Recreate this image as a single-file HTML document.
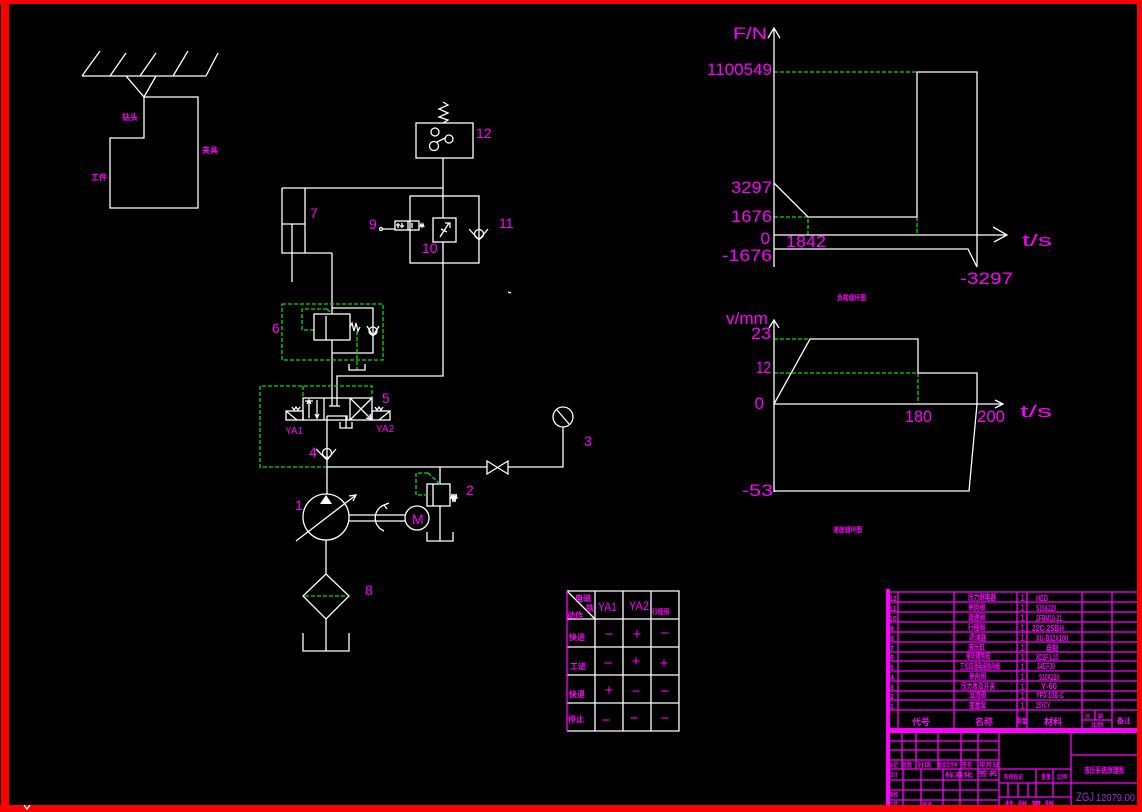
<!DOCTYPE html>
<html><head><meta charset="utf-8"><style>
html,body{margin:0;padding:0;background:#000;}
svg{display:block}
.w{stroke:#fff;stroke-width:1.3;fill:none}
.g{stroke:#00e000;stroke-width:1.3;fill:none;stroke-dasharray:4 2}
.p{stroke:#ff00ff;stroke-width:1.3;fill:none}
.m{fill:#ff00ff;font-family:"Liberation Sans",sans-serif}
.c{fill:#ff00ff;font-family:"Liberation Sans","Noto Sans CJK SC",sans-serif;font-weight:bold}
</style></head><body>
<svg width="1142" height="812" viewBox="0 0 1142 812" xmlns="http://www.w3.org/2000/svg">
<rect width="1142" height="812" fill="#000"/>

<!-- Mechanism -->
<path class="w" d="M82,76H206 M82,76L100,51 M110,76L126,53 M140,76L156,53 M173,76L188,51 M206,76L218,53 M126,76L144,97L156,76"/>
<path class="w" d="M144,97H198V208H110V138H144Z"/>
<text class="c" x="122" y="120" font-size="8">钻头</text>
<text class="c" x="202" y="153" font-size="8">夹具</text>
<text class="c" x="91" y="180" font-size="8">工件</text>

<!-- Hydraulic top -->
<path class="w" d="M443,102l5,3l-9,4l9,4l-9,4l9,3l-5,3"/>
<rect class="w" x="416" y="123" width="57" height="35"/>
<circle class="w" cx="435" cy="132" r="4"/>
<circle class="w" cx="449" cy="139" r="4"/>
<circle class="w" cx="434" cy="146" r="4.5"/>
<path class="w" d="M437,142L445,138"/>
<path class="w" d="M443,158V218 M443,242V376H337V398 M282,188H443 M282,188V253H332 M305,188V253 M282,224H305 M292,224V282 M332,253V314 M332,340V398"/>
<rect class="w" x="410" y="196" width="69" height="67"/>
<rect class="w" x="433" y="218" width="23" height="24"/>
<path class="w" d="M440,237L449,223 M445,223H450V228 M441,229L447,232"/>
<circle class="w" cx="479" cy="234" r="4.5" fill="#000"/>
<path class="w" d="M469,229L479,240L488,229"/>
<rect class="w" x="395" y="221" width="24" height="9"/>
<path class="w" d="M408,221V230 M383,229H395 M398,223V228 M396,225H400 M402,223V228 M400,226H404 M412,223V228"/>
<circle class="w" cx="381" cy="229" r="1.5"/>
<path class="w" stroke-width="0.8" d="M420,227l1,-3l1,3l1,-3l1,3"/>
<path class="w" d="M508,292l3,1"/>

<!-- Valve 6 -->
<rect class="g" x="282" y="304" width="101" height="56"/>
<path class="g" d="M327,309H302V330H314 M327,309L332,314"/>
<rect class="w" x="314" y="314" width="36" height="26"/>
<path class="w" d="M326,316V340"/>
<path class="w" d="M350,327l2,-4l2,8l2,-8l2,8l2,-4"/>
<path class="w" d="M332,308H373V353H332"/>
<circle class="w" cx="373" cy="331" r="4" fill="#000"/>
<path class="w" d="M367,326L373,336L379,326"/>
<path class="g" d="M357,331V370"/>
<path class="w" d="M349,364V370H365V364"/>

<!-- Valve 5 -->
<path class="g" d="M327,467H260V386H372V398 M303,386V398"/>
<rect class="w" x="303" y="398" width="69" height="22"/>
<path class="w" d="M324,398V420 M350,398V420"/>
<path class="w" d="M309,418V401 M307,404L309,400L311,404 M317,400V417 M315,414L317,418L319,414 M305,401H313"/>
<path class="w" d="M332,398V406 M337,398V406 M329,406H340"/>
<path class="w" d="M327,416H347V420 M340,422V428H352V422 M346,416V428"/>
<path class="w" d="M350,398L372,420 M372,398L350,420 M366,418L371,419L370,414"/>
<rect class="w" x="286" y="411" width="17" height="9"/>
<path class="w" d="M286,411L297,420"/>
<rect class="w" x="372" y="411" width="18" height="9"/>
<path class="w" d="M390,411L379,420"/>
<path class="w" stroke-width="0.8" d="M292,407l2,3l2,-3l2,3l2,-3 M375,407l2,3l2,-3l2,3l2,-3"/>

<!-- lines & check valve 4 -->
<path class="w" d="M327,416V467 M327,467H487 M508,467H563V427 M327,467V494 M440,467V484"/>
<circle class="w" cx="327" cy="453" r="4.5" fill="#000"/>
<path class="w" d="M316,449L327,460L336,449"/>
<path class="w" d="M487,461L508,474V461L487,474Z"/>
<circle class="w" cx="563" cy="417" r="10"/>
<path class="w" d="M557,410L569,424"/>

<!-- Pump & motor -->
<circle class="w" cx="326" cy="517" r="23"/>
<path fill="#fff" d="M326,495L320,504H332Z"/>
<path class="w" d="M296,541L356,495 M349,496L356,495L353,501"/>
<path class="w" d="M349,515H405 M349,521H405"/>
<path class="w" d="M384,505 A14,14 0 0 0 384,531 M384,505L389,503 M384,505L387,509"/>
<circle class="w" cx="417" cy="518" r="12"/>
<path class="w" d="M326,540V574 M326,574L303,596L326,619L349,596Z M326,619V651 M303,633V651H349V633"/>
<path class="g" d="M305,596H347"/>

<!-- Relief valve 2 -->
<rect class="w" x="427" y="484" width="23" height="22"/>
<path class="w" d="M433,484V506 M440,506V541 M427,532V541H453V532"/>
<path class="w" stroke-width="0.9" d="M451,499l1,-5l1,8l1,-8l1,8l1,-8l1,5"/>
<path class="g" d="M428,473H416V495H427 M428,473L440,484"/>

<!-- Hydraulic labels -->
<text class="m" x="476" y="138" font-size="14">12</text>
<text class="m" x="310" y="218" font-size="14">7</text>
<text class="m" x="369" y="229" font-size="14">9</text>
<text class="m" x="422" y="253" font-size="14">10</text>
<text class="m" x="499" y="228" font-size="14">11</text>
<text class="m" x="272" y="333" font-size="14">6</text>
<text class="m" x="382" y="403" font-size="14">5</text>
<text class="m" x="285" y="434" font-size="10">YA1</text>
<text class="m" x="376" y="432" font-size="10">YA2</text>
<text class="m" x="309" y="457" font-size="14">4</text>
<text class="m" x="584" y="446" font-size="14">3</text>
<text class="m" x="295" y="510" font-size="14">1</text>
<text class="m" x="466" y="495" font-size="14">2</text>
<text class="m" x="365" y="595" font-size="14">8</text>
<text class="m" x="412" y="524" font-size="14">M</text>

<!-- Graph 1 -->
<path class="g" d="M774,72H917 M774,217H808V235 M917,217V235"/>
<path class="w" d="M774,267V28 M768,38L774,28L780,38 M774,235H1007 M993,227L1007,235L994,242"/>
<path class="w" d="M774,183L808,217H917V72H977V267 M774,249H968L977,267"/>
<text class="m" x="733" y="39" font-size="17" textLength="34" lengthAdjust="spacingAndGlyphs">F/N</text>
<text class="m" x="772" y="75" font-size="17" text-anchor="end" textLength="65" lengthAdjust="spacingAndGlyphs">1100549</text>
<text class="m" x="772" y="193" font-size="17" text-anchor="end" textLength="41" lengthAdjust="spacingAndGlyphs">3297</text>
<text class="m" x="772" y="222" font-size="17" text-anchor="end" textLength="41" lengthAdjust="spacingAndGlyphs">1676</text>
<text class="m" x="770" y="244" font-size="17" text-anchor="end">0</text>
<text class="m" x="772" y="261" font-size="17" text-anchor="end" textLength="50" lengthAdjust="spacingAndGlyphs">-1676</text>
<text class="m" x="786" y="247" font-size="17" textLength="40" lengthAdjust="spacingAndGlyphs">1842</text>
<text class="m" x="960" y="284" font-size="17" textLength="53" lengthAdjust="spacingAndGlyphs">-3297</text>
<text class="m" x="1022" y="246" font-size="17" textLength="30" lengthAdjust="spacingAndGlyphs">t/s</text>
<text class="c" x="837" y="300" font-size="7" textLength="29" lengthAdjust="spacingAndGlyphs">负载循环图</text>

<!-- Graph 2 -->
<path class="g" d="M774,339H810 M774,373H918V404"/>
<path class="w" d="M774,492V320 M769,328L774,320L779,328 M774,404H1003 M995,400L1003,404L995,408"/>
<path class="w" d="M774,404L810,339H918V373H977V404L969,491H774"/>
<text class="m" x="726" y="324" font-size="17" textLength="42" lengthAdjust="spacingAndGlyphs">v/mm</text>
<text class="m" x="771" y="339" font-size="17" text-anchor="end" textLength="20" lengthAdjust="spacingAndGlyphs">23</text>
<text class="m" x="771" y="373" font-size="17" text-anchor="end" textLength="15" lengthAdjust="spacingAndGlyphs">12</text>
<text class="m" x="764" y="409" font-size="17" text-anchor="end">0</text>
<text class="m" x="773" y="496" font-size="17" text-anchor="end" textLength="31" lengthAdjust="spacingAndGlyphs">-53</text>
<text class="m" x="905" y="422" font-size="17" textLength="27" lengthAdjust="spacingAndGlyphs">180</text>
<text class="m" x="977" y="422" font-size="17" textLength="28" lengthAdjust="spacingAndGlyphs">200</text>
<text class="m" x="1020" y="417" font-size="17" textLength="32" lengthAdjust="spacingAndGlyphs">t/s</text>
<text class="c" x="833" y="532" font-size="7" textLength="29" lengthAdjust="spacingAndGlyphs">速度循环图</text>

<!-- Table -->
<path class="w" d="M567,591H679V731H567 M595,591V731 M623,591V731 M651,591V731 M567,619H679 M567,647H679 M567,675H679 M567,703H679 M567,591L595,619"/>
<path class="p" d="M567,591V731"/>
<text class="c" x="575" y="601" font-size="8">电磁</text>
<text class="c" x="586" y="611" font-size="8">铁</text>
<text class="c" x="567" y="618" font-size="8">动作</text>
<text class="m" x="598" y="611" font-size="12" textLength="19" lengthAdjust="spacingAndGlyphs">YA1</text>
<text class="m" x="629" y="610" font-size="12" textLength="20" lengthAdjust="spacingAndGlyphs">YA2</text>
<text class="c" x="652" y="614" font-size="7" textLength="17" lengthAdjust="spacingAndGlyphs">行程阀</text>
<text class="c" x="569" y="640" font-size="8">快进</text>
<text class="c" x="570" y="669" font-size="8">工进</text>
<text class="c" x="569" y="697" font-size="8">快退</text>
<text class="c" x="568" y="722" font-size="8">停止</text>
<g class="m" font-size="15" text-anchor="middle">
<text x="609" y="639">−</text><text x="637" y="639">+</text><text x="665" y="638">−</text>
<text x="608" y="668">−</text><text x="636" y="666">+</text><text x="664" y="668">+</text>
<text x="609" y="695">+</text><text x="636" y="696">−</text><text x="665" y="696">−</text>
<text x="606" y="725">−</text><text x="634" y="723">−</text><text x="665" y="723">−</text>
</g>

<!-- Title block -->
<g class="p">
<path d="M886,592H1137 M886,602H1137 M886,612H1137 M886,622H1137 M886,632H1137 M886,642H1137 M886,652H1137 M886,661H1137 M886,671H1137 M886,681H1137 M886,691H1137 M886,700H1137 M886,710H1137"/>
<path d="M898,592V728 M954,592V728 M1017,592V728 M1027,592V728 M1082,592V728 M1112,592V728 M1095,710V720 M1082,720H1112"/>
<path d="M999,733V806 M1071,733V806"/>
<path d="M886,741H999 M886,750H999 M886,760H999 M886,769H999 M886,780H999 M886,790H999 M886,800H999"/>
<path d="M902,733V769 M916,733V769 M938,733V769 M961,733V769 M978,733V769"/>
<path d="M903,769V806 M921,769V806 M943,769V806 M960,769V806 M978,769V806"/>
<path d="M999,769H1071 M999,783H1071 M999,797H1071 M1036,769V797 M1053,769V797 M1008,783V797 M1018,783V797 M1028,783V797"/>
<path d="M1071,755H1137 M1071,783H1137"/>
</g>
<rect x="886" y="589" width="4" height="223" fill="#ff00ff"/>
<rect x="886" y="728" width="251" height="5" fill="#ff00ff"/>

<g class="c" font-size="8">
<text x="889" y="601" font-size="7">12</text><text x="889" y="611" font-size="7">11</text><text x="889" y="621" font-size="7">10</text>
<text x="890" y="631" font-size="7">9</text><text x="890" y="641" font-size="7">8</text><text x="890" y="651" font-size="7">7</text>
<text x="890" y="660" font-size="7">6</text><text x="890" y="670" font-size="7">5</text><text x="890" y="680" font-size="7">4</text>
<text x="890" y="690" font-size="7">3</text><text x="890" y="699" font-size="7">2</text><text x="890" y="709" font-size="7">1</text>
<text x="968" y="600" textLength="28" lengthAdjust="spacingAndGlyphs">压力继电器</text>
<text x="968" y="610" textLength="17" lengthAdjust="spacingAndGlyphs">单向阀</text>
<text x="968" y="620" textLength="17" lengthAdjust="spacingAndGlyphs">调速阀</text>
<text x="968" y="630" textLength="17" lengthAdjust="spacingAndGlyphs">行程阀</text>
<text x="969" y="640" textLength="17" lengthAdjust="spacingAndGlyphs">滤油器</text>
<text x="968" y="650" textLength="17" lengthAdjust="spacingAndGlyphs">液压缸</text>
<text x="966" y="659" textLength="24" lengthAdjust="spacingAndGlyphs">单向顺序阀</text>
<text x="960" y="669" textLength="40" lengthAdjust="spacingAndGlyphs">三位四通电磁换向阀</text>
<text x="969" y="679" textLength="17" lengthAdjust="spacingAndGlyphs">单向阀</text>
<text x="961" y="689" textLength="34" lengthAdjust="spacingAndGlyphs">压力表及开关</text>
<text x="969" y="698" textLength="17" lengthAdjust="spacingAndGlyphs">溢流阀</text>
<text x="969" y="708" textLength="17" lengthAdjust="spacingAndGlyphs">变量泵</text>
<text x="1036" y="601" textLength="12" lengthAdjust="spacingAndGlyphs">HED</text>
<text x="1036" y="611" textLength="20" lengthAdjust="spacingAndGlyphs">S10A220</text>
<text x="1036" y="621" textLength="26" lengthAdjust="spacingAndGlyphs">2FRM10-21</text>
<text x="1032" y="631" textLength="32" lengthAdjust="spacingAndGlyphs">22C-25BH</text>
<text x="1036" y="641" textLength="32" lengthAdjust="spacingAndGlyphs">XU-B32X100</text>
<text x="1046" y="651" textLength="12" lengthAdjust="spacingAndGlyphs">自制</text>
<text x="1036" y="660" textLength="22" lengthAdjust="spacingAndGlyphs">XD2F-L10</text>
<text x="1037" y="669" textLength="18" lengthAdjust="spacingAndGlyphs">34EF30</text>
<text x="1039" y="680" textLength="20" lengthAdjust="spacingAndGlyphs">S10A220</text>
<text x="1041" y="689" textLength="16" lengthAdjust="spacingAndGlyphs">Y-60</text>
<text x="1036" y="698" textLength="28" lengthAdjust="spacingAndGlyphs">YF3-10B-C</text>
<text x="1036" y="708" textLength="14" lengthAdjust="spacingAndGlyphs">25YCY</text>
</g>
<g class="m" font-size="9">
<text x="1020" y="601">1</text><text x="1020" y="611">1</text><text x="1020" y="621">1</text><text x="1020" y="631">1</text>
<text x="1020" y="641">1</text><text x="1020" y="651">1</text><text x="1020" y="660">1</text><text x="1020" y="670">1</text>
<text x="1020" y="680">1</text><text x="1020" y="690">1</text><text x="1020" y="699">1</text><text x="1020" y="709">1</text>
</g>
<g class="c" font-size="9">
<text x="912" y="725">代号</text>
<text x="975" y="725">名称</text>
<text x="1017" y="723" font-size="7" textLength="10" lengthAdjust="spacingAndGlyphs">数量</text>
<text x="1044" y="725">材料</text>
<text x="1117" y="723" font-size="7">备注</text>
<text x="1085" y="718" font-size="5">日</text>
<text x="1098" y="718" font-size="5">期</text>
<text x="1091" y="727" font-size="6">比例</text>
</g>
<g class="c" font-size="6">
<text x="889" y="767" textLength="9" lengthAdjust="spacingAndGlyphs">标记</text>
<text x="902" y="767" textLength="10" lengthAdjust="spacingAndGlyphs">处数</text>
<text x="917" y="767" textLength="15" lengthAdjust="spacingAndGlyphs">分区</text>
<text x="938" y="767" textLength="20" lengthAdjust="spacingAndGlyphs">更改文件号</text>
<text x="962" y="767" textLength="10" lengthAdjust="spacingAndGlyphs">签名</text>
<text x="979" y="767" textLength="20" lengthAdjust="spacingAndGlyphs">年月日</text>
<text x="889" y="777" textLength="9" lengthAdjust="spacingAndGlyphs">设计</text>
<text x="945" y="777" textLength="28" lengthAdjust="spacingAndGlyphs">标准化</text>
<text x="978" y="776" textLength="20" lengthAdjust="spacingAndGlyphs">签名</text>
<text x="889" y="797" textLength="9" lengthAdjust="spacingAndGlyphs">审核</text>
<text x="889" y="807" textLength="9" lengthAdjust="spacingAndGlyphs">工艺</text>
<text x="922" y="807" textLength="10" lengthAdjust="spacingAndGlyphs">批准</text>
<text x="1004" y="779" textLength="19" lengthAdjust="spacingAndGlyphs">阶段标记</text>
<text x="1041" y="779" textLength="10" lengthAdjust="spacingAndGlyphs">重量</text>
<text x="1057" y="779" textLength="10" lengthAdjust="spacingAndGlyphs">比例</text>
<text x="1004" y="806" textLength="51" lengthAdjust="spacingAndGlyphs">共 张 第 张</text>
</g>
<text class="c" x="1084" y="773" font-size="8" textLength="40" lengthAdjust="spacingAndGlyphs">液压系统原理图</text>
<text x="1076" y="801" font-family="Liberation Sans,sans-serif" font-size="12" fill="#a030e0" textLength="18" lengthAdjust="spacingAndGlyphs">ZGJ</text>
<text x="1096" y="801" font-family="Liberation Sans,sans-serif" font-size="10" fill="#a030e0" textLength="39" lengthAdjust="spacingAndGlyphs">12079.00</text>

<!-- Red frame -->
<rect x="0" y="0" width="1142" height="4" fill="#ff0000"/>
<rect x="1" y="0" width="8" height="812" fill="#ff0000"/>
<rect x="1137" y="0" width="5" height="812" fill="#ff0000"/>
<rect x="0" y="805" width="1142" height="7" fill="#ff0000"/>
<path class="w" d="M24,805l3,4l3,-4"/>
</svg>
</body></html>
